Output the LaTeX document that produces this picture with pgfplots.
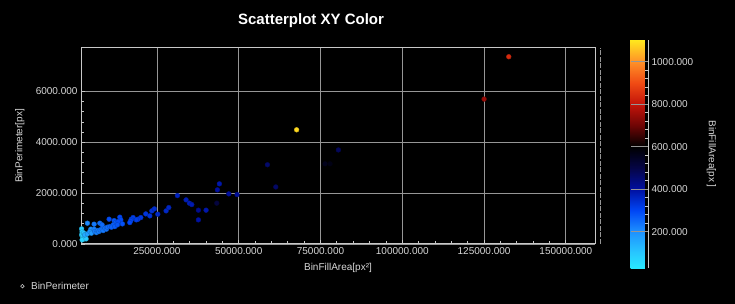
\documentclass[border=0pt]{standalone}
\usepackage{pgfplots}
\pgfplotsset{compat=1.18}
\usepackage{fontspec}
\setmainfont{Liberation Sans}
\definecolor{gridc}{RGB}{150,150,150}
\definecolor{txt}{RGB}{215,215,215}
\definecolor{axc}{RGB}{200,200,200}
\pgfplotstableread{
x y c
1990 594 95
2140 476 90
1990 358 85
2290 240 80
2440 319 90
2750 201 85
3060 280 100
2600 437 105
2140 161 75
3360 201 95
2900 358 110
2960 358 150
3760 398 170
3760 819 210
4800 583 200
4490 488 195
4980 425 185
5810 780 230
5810 583 220
6020 488 225
6510 449 220
6810 528 230
7240 488 225
7640 555 235
8250 583 240
8560 528 235
9080 622 245
9570 583 240
9870 661 250
10600 685 255
7550 819 245
8250 752 250
10390 976 290
11920 921 280
12320 843 275
11610 752 270
11100 661 265
12130 685 270
13660 1055 300
13970 949 295
13140 882 290
14460 791 285
12930 752 280
17720 1040 315
17200 976 310
17020 921 305
16720 843 300
20080 1040 325
19250 976 320
18730 949 315
21600 1185 330
22830 1106 335
23440 1303 340
24230 1382 345
25270 1173 350
27810 1303 355
28630 1433 360
31260 1905 365
33920 1736 372
34930 1606 375
35660 1551 380
37680 1330 420
40030 1330 385
37680 949 395
43300 1606 510
44100 2366 385
43490 2130 400
46970 1972 405
49500 1945 410
58780 3118 460
61330 2244 465
80470 3700 475
76400 3154 560
77930 3154 570
67700 4492 1085
125000 5700 750
132540 7366 840
}\datatable
\begin{document}
\begin{tikzpicture}[x=1pt,y=1pt]
\fill[black] (0,0) rectangle (735,304);
\begin{axis}[
 name=main,
 at={(81pt,60pt)}, anchor=south west,
 scale only axis, width=514pt, height=196pt,
 xmin=1800, xmax=158900, ymin=0, ymax=7710,
 xtick={25000,50000,75000,100000,125000,150000},
 ytick={0,2000,4000,6000},
 minor x tick num=4, minor y tick num=4,
 tick pos=left, tick align=inside,
 major tick length=4pt, minor tick length=3pt,
 tick style={axc, line width=0.8pt},
 grid=major, major grid style={gridc, line width=0.8pt},
 axis line style={axc, line width=1pt},
 scaled ticks=false,
 /pgf/number format/assume math mode=true,
 /pgf/number format/fixed,
 /pgf/number format/fixed zerofill,
 /pgf/number format/precision=3,
 /pgf/number format/1000 sep={},
 ticklabel style={font=\fontsize{10}{12}\selectfont, text=txt},
 xlabel={BinFillArea[px²]},
 ylabel={BinPerimeter[px]},
 xlabel style={at={(axis description cs:0.5,-0.123)}, anchor=center, font=\fontsize{10}{12}\selectfont, text=txt},
 ylabel style={at={(axis description cs:-0.119,0.5)}, anchor=center, font=\fontsize{10}{12}\selectfont, text=txt},
 colormap={qwt}{rgb255(29pt)=(40,232,255); rgb255(100pt)=(40,200,255); rgb255(200pt)=(30,145,255); rgb255(300pt)=(0,70,245); rgb255(400pt)=(0,15,160); rgb255(500pt)=(5,5,70); rgb255(600pt)=(0,0,0); rgb255(700pt)=(110,5,5); rgb255(800pt)=(195,20,10); rgb255(900pt)=(240,75,20); rgb255(1000pt)=(255,145,40); rgb255(1102pt)=(255,232,30)},
 point meta min=29, point meta max=1102,
 colorbar,
 colorbar style={
   at={(parent axis.north east)}, anchor=north west, xshift=27pt, yshift=8pt,
   scale only axis, width=17.5pt, height=228pt,
   axis x line=none, axis y line*=right,
   y axis line style={axc, line width=1pt},
   ytick={200,400,600,800,1000}, minor y tick num=4,
   tick align=inside, major tick length=17.5pt, minor tick length=3pt,
   major tick style={gridc, line width=0.8pt}, minor tick style={axc, line width=0.8pt},
   axis on top,
   yticklabel style={font=\fontsize{10}{12}\selectfont, text=txt,
     /pgf/number format/assume math mode=true,
     /pgf/number format/fixed, /pgf/number format/fixed zerofill, /pgf/number format/precision=3,
     /pgf/number format/1000 sep={}},
   ylabel={BinFillArea[px ]},
   ylabel style={at={(axis description cs:4.63,0.5)}, anchor=center, rotate=180, font=\fontsize{10}{12}\selectfont, text=txt},
 },
 legend style={at={(axis description cs:-0.1187,-0.215)}, anchor=west, draw=none, fill=none, text=txt, font=\fontsize{10}{12}\selectfont, inner sep=0pt},
 legend image code/.code={\path (-2pt,0) -- (6.5pt,0); \draw[axc, line width=0.6pt] (0pt,0) circle (1.8pt);},
]
\addplot[scatter, only marks, mark=*, mark size=2.4pt, scatter src=explicit] table[x=x, y=y, meta=c] {\datatable};
\addlegendentry{BinPerimeter}
\end{axis}
\draw[gridc, line width=1pt, dash pattern=on 5pt off 1.5pt] ([xshift=5pt]main.south east) -- ([xshift=5pt]main.north east);
\node[font=\bfseries\fontsize{15}{18}\selectfont, text=white] at (311,283) {Scatterplot XY Color};
\pgfresetboundingbox
\useasboundingbox (0,0) rectangle (735,304);
\end{tikzpicture}
\end{document}
